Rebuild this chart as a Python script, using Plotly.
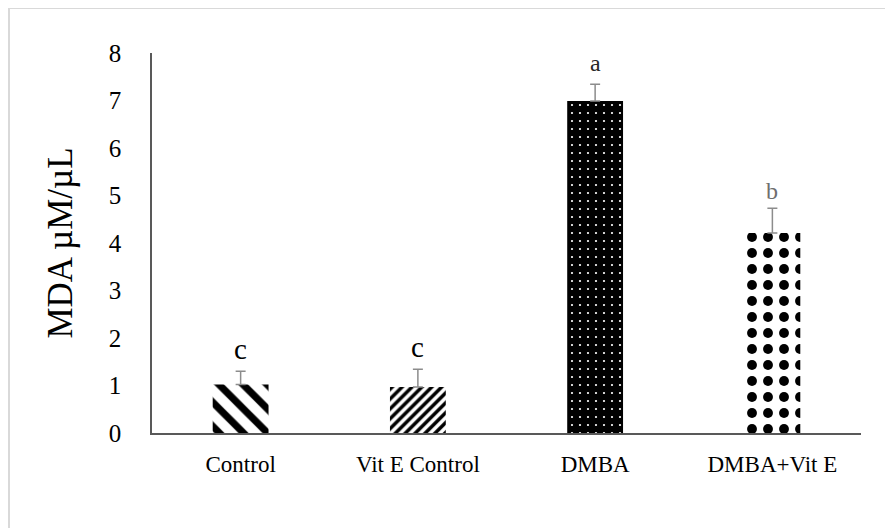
import plotly.graph_objects as go

categories = ["Control", "Vit E Control", "DMBA", "DMBA+Vit E"]
values = [1.02, 0.97, 6.99, 4.21]
errors = [0.28, 0.37, 0.35, 0.52]
letters = ["c", "c", "a", "b"]
letter_colors = ["#000000", "#000000", "#262626", "#6e6e6e"]
letter_sizes = [29, 29, 24, 24]
letter_shift = [4, 4, 6, 2]
y_ticks = [0, 1, 2, 3, 4, 5, 6, 7, 8]

patterns = [
    dict(shape="\\", size=17, solidity=0.42, fgcolor="black", bgcolor="white", fillmode="replace"),
    dict(shape="/", size=7, solidity=0.5, fgcolor="black", bgcolor="white", fillmode="replace"),
    dict(shape=".", size=8, solidity=0.06, fgcolor="white", bgcolor="black", fillmode="replace"),
    dict(shape=".", size=16, solidity=0.3, fgcolor="black", bgcolor="white", fillmode="replace"),
]

FONT = "Liberation Serif, Times New Roman, serif"

fig = go.Figure()
for i, c in enumerate(categories):
    fig.add_trace(go.Bar(
        x=[c], y=[values[i]],
        marker=dict(color=patterns[i]["bgcolor"], line=dict(width=0), pattern=patterns[i]),
        error_y=dict(type="data", symmetric=False, array=[errors[i]], arrayminus=[0],
                     color="#8c8c8c", thickness=1.5, width=5),
        showlegend=False,
    ))
    fig.add_annotation(x=c, y=values[i] + errors[i], text=letters[i], showarrow=False,
                       yanchor="bottom", yshift=letter_shift[i],
                       font=dict(family=FONT, size=letter_sizes[i], color=letter_colors[i]))

# light gray chart border
fig.add_shape(type="rect", xref="paper", yref="paper", x0=-0.2017, x1=1.06, y0=-0.3, y1=1.1184,
              line=dict(color="#d9d9d9", width=2), fillcolor="rgba(0,0,0,0)", layer="below")

fig.update_layout(
    width=885, height=520,
    margin=dict(l=144, r=32, t=45, b=95),
    paper_bgcolor="white", plot_bgcolor="white",
    bargap=0.685,
    font=dict(family=FONT, color="black"),
    xaxis=dict(showline=True, linecolor="#595959", linewidth=1.5, ticks="", showgrid=False,
               tickfont=dict(family=FONT, size=23, color="black"), ticklabelstandoff=10),
    yaxis=dict(range=[0, 8], tickvals=y_ticks, showline=True, linecolor="#595959", linewidth=1.5,
               ticks="", showgrid=False, zeroline=False,
               tickfont=dict(family=FONT, size=25, color="black"), ticklabelstandoff=24,
               title=dict(text="MDA µM/µL", font=dict(family=FONT, size=35, color="black"), standoff=26)),
)

fig.write_html("out.html")
